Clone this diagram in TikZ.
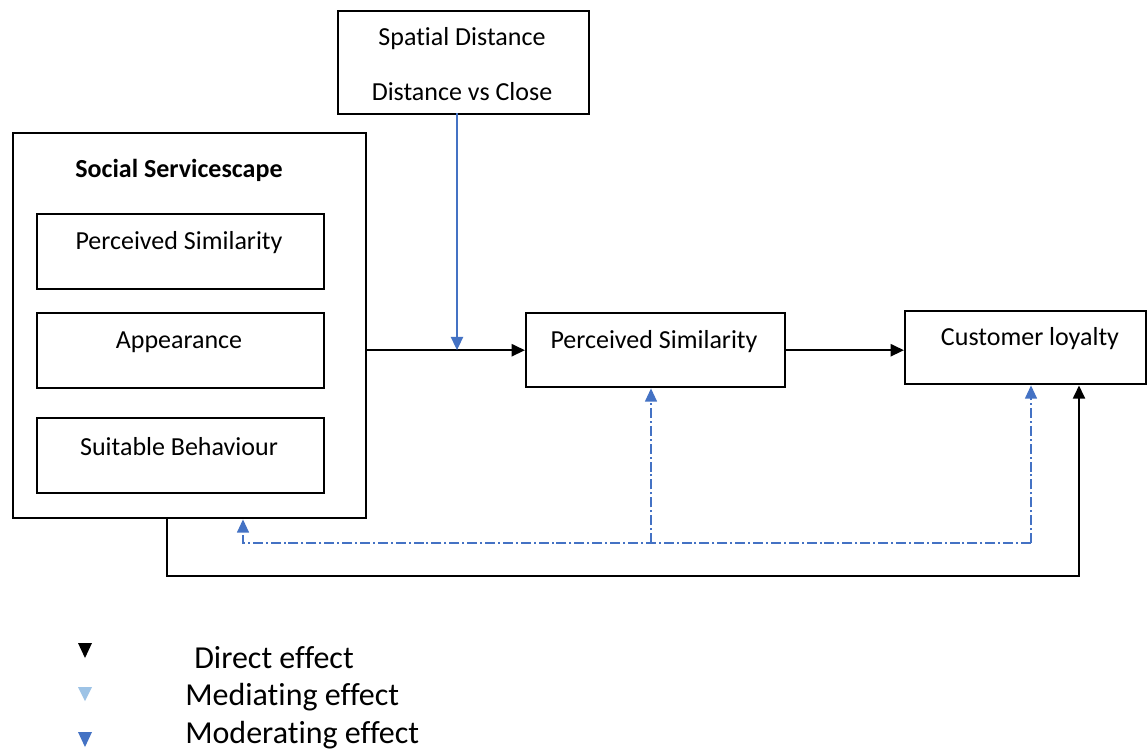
\documentclass[tikz,border=0pt]{standalone}
\usepackage{fontspec}
\setmainfont{Carlito}[Ligatures=NoCommon]
\usetikzlibrary{arrows.meta}
\definecolor{modblue}{HTML}{4472C4}
\definecolor{medblue}{HTML}{9DC3E6}
\begin{document}
\begin{tikzpicture}[x=0.75pt,y=-0.75pt,
  box/.style={draw=black, line width=1.8pt, inner sep=0pt, anchor=north west},
  txt/.style={inner sep=0pt, font=\fontsize{19.5}{23}\selectfont},
  leg/.style={inner sep=0pt, anchor=west, font=\fontsize{24}{28}\selectfont},
  blk/.style={line width=1.8pt, -{Triangle[length=10pt,width=9pt]}},
  mod/.style={draw=modblue, line width=1.7pt, -{Triangle[length=10pt,width=9pt]}},
  dd/.style={draw=modblue, line width=1.2pt, dash pattern=on 7.5pt off 2.2pt on 1.5pt off 2.2pt, -{Triangle[length=10pt,width=9pt]}}
]
\useasboundingbox (0,0) rectangle (1147,751);
\fill[white] (0,0) rectangle (1147,751);
% boxes
\node[box, minimum width=251*0.75pt, minimum height=103*0.75pt] (sp) at (337,10) {};
\node[txt] (spt1) at (462,39) {Spatial Distance};
\node[txt] (spt2) at (462,92) {Distance vs Close};
\node[box, minimum width=353*0.75pt, minimum height=385*0.75pt] (outer) at (12,132) {};
\node[txt, font=\fontsize{19.5}{23}\selectfont\bfseries] (ot) at (179,170) {Social Servicescape};
\node[box, minimum width=287*0.75pt, minimum height=75*0.75pt] (b1) at (36,213) {};
\node[txt] (b1t) at (179,243) {Perceived Similarity};
\node[box, minimum width=287*0.75pt, minimum height=75*0.75pt] (b2) at (36,312) {};
\node[txt] (b2t) at (179,342) {Appearance};
\node[box, minimum width=287*0.75pt, minimum height=75*0.75pt] (b3) at (36,417) {};
\node[txt] (b3t) at (179,447) {Suitable Behaviour};
\node[box, minimum width=259*0.75pt, minimum height=74*0.75pt] (ps) at (525,312) {};
\node[txt] (pst) at (654,342) {Perceived Similarity};
\node[box, minimum width=241*0.75pt, minimum height=73*0.75pt] (cl) at (904,310) {};
\node[txt] (clt) at (1030,339) {Customer loyalty};
% connectors
\draw[blk] (ps.west -| outer.east) -- (ps.west);
\coordinate (s1) at (457,113);
\draw[mod] (s1) -- (s1 |- ps.west);
\draw[blk] (ps.east) -- (ps.east -| cl.west);
\coordinate (d1) at (167,576);
\coordinate (d2) at (1079,576);
\draw[blk] (outer.south -| d1) -- (d1) -- (d2) -- (d2 |- cl.south);
\coordinate (m1) at (243,543);
\coordinate (m2) at (651,543);
\coordinate (m3) at (1031,543);
\draw[dd] (m3) -- (m1) -- (m1 |- outer.south);
\draw[dd] (m2) -- (m2 |- ps.south);
\draw[dd] (m3) -- (m3 |- cl.south);
% legend
\fill[black] (78,643) -- (92,643) -- (85,658) -- cycle;
\fill[medblue] (78,687) -- (92,687) -- (85,701) -- cycle;
\fill[modblue] (78,732) -- (92,732) -- (85,747) -- cycle;
\node[leg] (l1) at (194,658) {Direct effect};
\node[leg] (l2) at (185,697) {Mediating effect};
\node[leg] (l3) at (185,735) {Moderating effect};
\end{tikzpicture}
\end{document}
